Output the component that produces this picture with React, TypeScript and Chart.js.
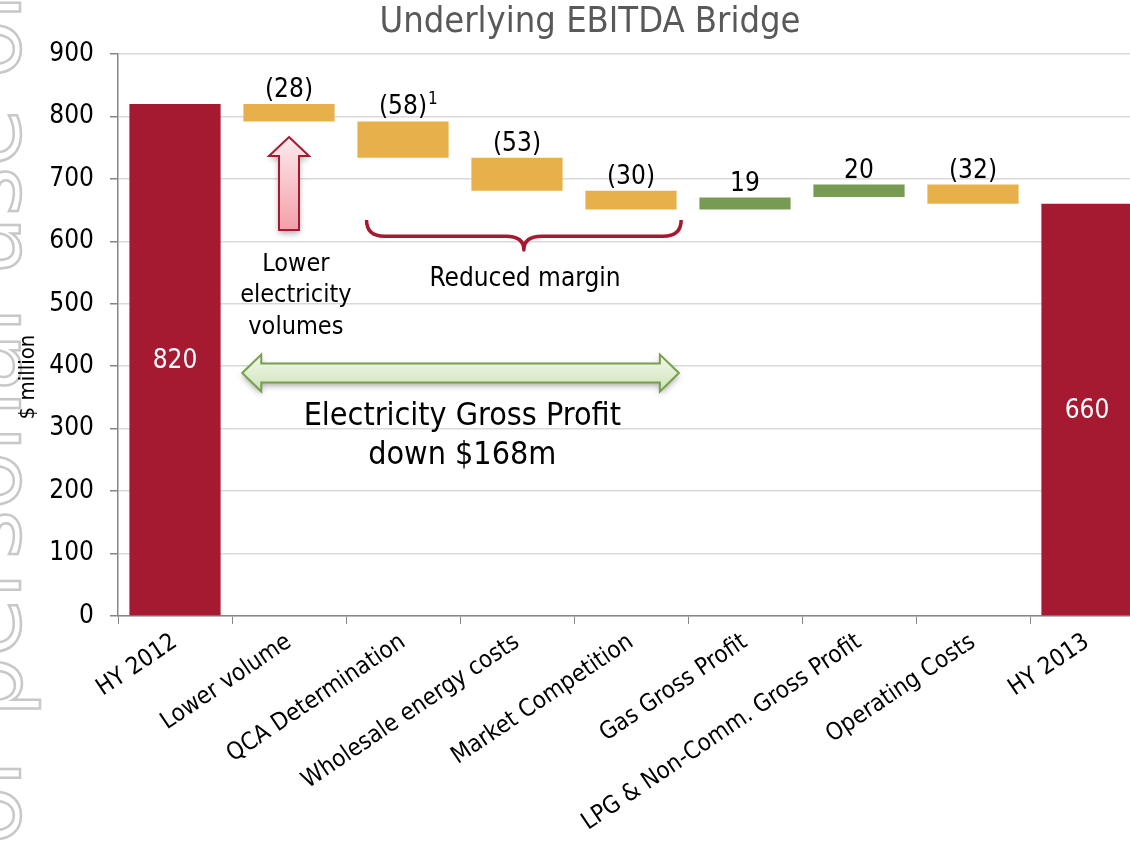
import React, { useEffect, useRef } from "react";
import { Chart, registerables } from "chart.js";
Chart.register(...registerables);

// ---------- data ----------
const categories = [
  "HY 2012",
  "Lower volume",
  "QCA Determination",
  "Wholesale energy costs",
  "Market Competition",
  "Gas Gross Profit",
  "LPG & Non-Comm. Gross Profit",
  "Operating Costs",
  "HY 2013",
];
const barStart = [0, 792, 734, 681, 651, 651, 671, 660, 0];
const barEnd = [820, 820, 792, 734, 681, 670, 691, 691, 660];
const valueLabels = ["820", "(28)", "(58)", "(53)", "(30)", "19", "20", "(32)", "660"];
const labelNotes = ["", "", "1", "", "", "", "", "", ""];
const barKinds = ["total", "down", "down", "down", "down", "up", "up", "down", "total"];
const yMin = 0;
const yMax = 900;
const yStep = 100;

const titleText = "Underlying EBITDA Bridge";
const yAxisTitle = "$ million";
const watermarkLead = "For ";
const watermarkRest = "personal use only";

// annotation anchors in data coordinates (category index, value)
const upArrow = { x: 1, from: 618, to: 767 };
const brace = { x1: 1.68, x2: 4.44, top: 634, mid: 608, tip: 586 };
const braceLabel = { x: 3.07, y: 540, text: "Reduced margin" };
const volumeLabel = { x: 1.06, y: 563, lines: ["Lower", "electricity", "volumes"] };
const doubleArrow = { x1: 0.59, x2: 4.42, y: 389 };
const profitLabel = { x: 2.52, y: 319, lines: ["Electricity Gross Profit", "down $168m"] };

const COLORS: Record<string, string> = {
  total: "#A51931",
  down: "#E8B04A",
  up: "#779B53",
};
const FONT = "'DejaVu Sans Condensed', 'DejaVu Sans', sans-serif";

const annotationPlugin = {
  id: "annotations",
  beforeDraw(chart: any) {
    const ctx = chart.ctx;
    ctx.save();
    // watermark
    ctx.font = `95px 'DejaVu Sans', sans-serif`;
    const lead = ctx.measureText(watermarkLead).width;
    ctx.translate(20, 717 + lead);
    ctx.rotate(-Math.PI / 2);
    ctx.strokeStyle = "#C8C8C8";
    ctx.lineWidth = 2.5;
    ctx.textAlign = "left";
    ctx.textBaseline = "alphabetic";
    ctx.strokeText(watermarkLead + watermarkRest, 0, 0);
    ctx.restore();

    ctx.save();
    ctx.font = `36px ${FONT}`;
    ctx.fillStyle = "#595959";
    ctx.textAlign = "center";
    ctx.textBaseline = "middle";
    ctx.fillText(titleText, 590, 23);
    ctx.font = `22px ${FONT}`;
    ctx.fillStyle = "#000";
    ctx.translate(28, 377);
    ctx.rotate(-Math.PI / 2);
    ctx.fillText(yAxisTitle, 0, 0);
    ctx.restore();
  },
  afterDatasetsDraw(chart: any) {
    const ctx = chart.ctx;
    const xs = chart.scales.x;
    const ys = chart.scales.y;
    const meta = chart.getDatasetMeta(0);
    ctx.save();
    // value labels
    meta.data.forEach((el: any, i: number) => {
      const top = Math.min(el.y, el.base);
      const bottom = Math.max(el.y, el.base);
      ctx.font = `26px ${FONT}`;
      ctx.textAlign = "center";
      if (barKinds[i] === "total") {
        ctx.fillStyle = "#fff";
        ctx.textBaseline = "middle";
        ctx.fillText(valueLabels[i], el.x, (top + bottom) / 2 + 2);
      } else {
        ctx.fillStyle = "#000";
        ctx.textBaseline = "alphabetic";
        ctx.fillText(valueLabels[i], el.x, top - 7);
        if (labelNotes[i]) {
          const w = ctx.measureText(valueLabels[i]).width;
          ctx.font = `17px ${FONT}`;
          ctx.textAlign = "left";
          ctx.fillText(labelNotes[i], el.x + w / 2 + 1, top - 17);
        }
      }
    });

    // up arrow
    {
      const cx = xs.getPixelForValue(upArrow.x);
      const yTip = ys.getPixelForValue(upArrow.to);
      const yBot = ys.getPixelForValue(upArrow.from);
      const hw = 20, sw = 10, hl = 19;
      ctx.save();
      ctx.beginPath();
      ctx.moveTo(cx, yTip);
      ctx.lineTo(cx + hw, yTip + hl);
      ctx.lineTo(cx + sw, yTip + hl);
      ctx.lineTo(cx + sw, yBot);
      ctx.lineTo(cx - sw, yBot);
      ctx.lineTo(cx - sw, yTip + hl);
      ctx.lineTo(cx - hw, yTip + hl);
      ctx.closePath();
      const g = ctx.createLinearGradient(0, yTip, 0, yBot);
      g.addColorStop(0, "#FCEBED");
      g.addColorStop(1, "#F29FA8");
      ctx.shadowColor = "rgba(0,0,0,0.35)";
      ctx.shadowBlur = 6;
      ctx.shadowOffsetY = 3;
      ctx.fillStyle = g;
      ctx.fill();
      ctx.shadowColor = "transparent";
      ctx.strokeStyle = "#A51931";
      ctx.lineWidth = 2;
      ctx.stroke();
      ctx.restore();
    }

    // brace
    {
      const L = xs.getPixelForValue(brace.x1);
      const R = xs.getPixelForValue(brace.x2);
      const C = (L + R) / 2;
      const yT = ys.getPixelForValue(brace.top);
      const yM = ys.getPixelForValue(brace.mid);
      const yP = ys.getPixelForValue(brace.tip);
      const r = 18;
      ctx.save();
      ctx.beginPath();
      ctx.moveTo(L, yT);
      ctx.quadraticCurveTo(L, yM, L + r, yM);
      ctx.lineTo(C - r, yM);
      ctx.quadraticCurveTo(C, yM, C, yP);
      ctx.quadraticCurveTo(C, yM, C + r, yM);
      ctx.lineTo(R - r, yM);
      ctx.quadraticCurveTo(R, yM, R, yT);
      ctx.strokeStyle = "#A51931";
      ctx.lineWidth = 3.5;
      ctx.lineJoin = "round";
      ctx.stroke();
      ctx.restore();
    }

    // double arrow
    {
      const x1 = xs.getPixelForValue(doubleArrow.x1);
      const x2 = xs.getPixelForValue(doubleArrow.x2);
      const cy = ys.getPixelForValue(doubleArrow.y);
      const hh = 18.5, sh = 9.5, hl = 19;
      ctx.save();
      ctx.beginPath();
      ctx.moveTo(x1, cy);
      ctx.lineTo(x1 + hl, cy - hh);
      ctx.lineTo(x1 + hl, cy - sh);
      ctx.lineTo(x2 - hl, cy - sh);
      ctx.lineTo(x2 - hl, cy - hh);
      ctx.lineTo(x2, cy);
      ctx.lineTo(x2 - hl, cy + hh);
      ctx.lineTo(x2 - hl, cy + sh);
      ctx.lineTo(x1 + hl, cy + sh);
      ctx.lineTo(x1 + hl, cy + hh);
      ctx.closePath();
      const g = ctx.createLinearGradient(0, cy - hh, 0, cy + hh);
      g.addColorStop(0, "#F1F7EA");
      g.addColorStop(1, "#CFE4B9");
      ctx.shadowColor = "rgba(0,0,0,0.35)";
      ctx.shadowBlur = 6;
      ctx.shadowOffsetY = 3;
      ctx.fillStyle = g;
      ctx.fill();
      ctx.shadowColor = "transparent";
      ctx.strokeStyle = "#77A04C";
      ctx.lineWidth = 2;
      ctx.stroke();
      ctx.restore();
    }

    // texts
    ctx.fillStyle = "#000";
    ctx.textAlign = "center";
    ctx.textBaseline = "middle";
    ctx.font = `25px ${FONT}`;
    {
      const x = xs.getPixelForValue(volumeLabel.x);
      const y = ys.getPixelForValue(volumeLabel.y);
      volumeLabel.lines.forEach((t, k) => ctx.fillText(t, x, y + k * 31.5));
    }
    ctx.font = `26px ${FONT}`;
    ctx.fillText(braceLabel.text, xs.getPixelForValue(braceLabel.x), ys.getPixelForValue(braceLabel.y));
    ctx.font = `32px ${FONT}`;
    {
      const x = xs.getPixelForValue(profitLabel.x);
      const y = ys.getPixelForValue(profitLabel.y);
      profitLabel.lines.forEach((t, k) => ctx.fillText(t, x, y + k * 38.5));
    }
    ctx.restore();
  },
};

export default function App() {
  const ref = useRef<HTMLCanvasElement | null>(null);
  useEffect(() => {
    if (!ref.current) return;
    const chart = new Chart(ref.current, {
      type: "bar",
      data: {
        labels: categories,
        datasets: [
          {
            data: barStart.map((s, i) => [s, barEnd[i]]) as any,
            backgroundColor: barKinds.map((k) => COLORS[k]),
            borderWidth: 0,
            barPercentage: 0.8,
            categoryPercentage: 1,
          },
        ],
      },
      options: {
        animation: false,
        responsive: false,
        maintainAspectRatio: false,
        layout: { padding: { top: 54, left: 0, right: 0, bottom: 0 } },
        plugins: {
          legend: { display: false },
          tooltip: { enabled: false },
          title: { display: false },
        },
        scales: {
          x: {
            afterFit: (s: any) => {
              s.height = 232;
            },
            grid: {
              drawOnChartArea: false,
              drawTicks: true,
              tickLength: 8,
              tickColor: "#868686",
              offset: true,
            },
            border: { color: "#868686", width: 1.5 },
            ticks: {
              color: "#000",
              font: { family: FONT, size: 24 },
              minRotation: 34,
              maxRotation: 34,
              autoSkip: false,
              padding: 4,
            },
          },
          y: {
            min: yMin,
            max: yMax,
            afterFit: (s: any) => {
              s.width = 118;
            },
            grid: {
              color: "#D9D9D9",
              lineWidth: 1.5,
              tickLength: 8,
              tickColor: "#868686",
            },
            border: { color: "#868686", width: 1.5 },
            ticks: {
              stepSize: yStep,
              color: "#000",
              font: { family: FONT, size: 26 },
              padding: 16,
            },
          },
        },
      },
      plugins: [annotationPlugin],
    });
    return () => chart.destroy();
  }, []);
  return (
    <div
      style={{
        position: "fixed",
        left: 0,
        top: 0,
        width: 1130,
        height: 848,
        overflow: "hidden",
        background: "#fff",
      }}
    >
      <canvas ref={ref} width={1144} height={848} style={{ display: "block" }} />
    </div>
  );
}
